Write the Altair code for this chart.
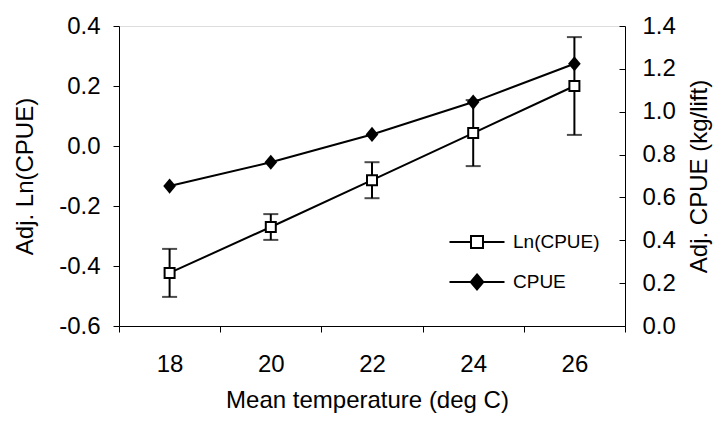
import altair as alt
import pandas as pd

temps = ["18", "20", "22", "24", "26"]
ln_cpue = [-0.423, -0.270, -0.114, 0.043, 0.200]
ln_err = [0.080, 0.043, 0.060, 0.110, 0.163]
cpue = [0.653, 0.764, 0.894, 1.045, 1.224]
series = ["Ln(CPUE)", "CPUE"]

left_ticks = [-0.6, -0.4, -0.2, 0.0, 0.2, 0.4]
right_ticks = [0.0, 0.2, 0.4, 0.6, 0.8, 1.0, 1.2, 1.4]

df = pd.DataFrame({
    "temp": temps,
    "ln": ln_cpue,
    "lo": [v - e for v, e in zip(ln_cpue, ln_err)],
    "hi": [v + e for v, e in zip(ln_cpue, ln_err)],
    "cpue": cpue,
    "series": [series[0]] * len(temps),
})

FONT = "Liberation Sans"
W, H = 506, 300
LBL = "replace(format(datum.value, '.1f'), '\u2212', '-')"
FS_LBL, FS_TTL = 24, 24

x = alt.X(
    "temp:O",
    scale=alt.Scale(type="band", paddingInner=0, paddingOuter=0),
    bandPosition=0.5,
    sort=temps,
    axis=alt.Axis(
        title="Mean temperature (deg C)", labelAngle=0, tickBand="extent",
        tickSize=6, labelPadding=20, titlePadding=12, titleX=248,
        domainColor="black",
        tickColor="black", labelFontSize=FS_LBL, titleFontSize=FS_TTL,
        titleFontWeight="normal", labelFont=FONT, titleFont=FONT,
        labelColor="black", titleColor="black",
    ),
)

y_ln_scale = alt.Scale(domain=[-0.6, 0.4], nice=False, zero=False)
y_ln = alt.Y(
    "ln:Q", scale=y_ln_scale,
    axis=alt.Axis(
        orient="left", values=left_ticks, labelExpr=LBL, grid=False,
        tickSize=6, labelPadding=13, title="Adj. Ln(CPUE)", titlePadding=21,
        domainColor="black", tickColor="black", labelFontSize=FS_LBL,
        titleFontSize=FS_TTL, titleFontWeight="normal", labelFont=FONT,
        titleFont=FONT, labelColor="black", titleColor="black",
    ),
)

base = alt.Chart(df)

err_rule = base.mark_rule(color="black", strokeWidth=2).encode(
    x=x, y=alt.Y("lo:Q", scale=y_ln_scale), y2="hi:Q"
)
cap_lo = base.mark_tick(color="black", size=15, thickness=2).encode(
    x=x, y=alt.Y("lo:Q", scale=y_ln_scale)
)
cap_hi = base.mark_tick(color="black", size=15, thickness=2).encode(
    x=x, y=alt.Y("hi:Q", scale=y_ln_scale)
)
ln_line = base.mark_line(color="black", strokeWidth=2).encode(x=x, y=y_ln)
ln_pts = base.mark_point(
    shape="square", size=100, filled=True, fill="white", stroke="black",
    strokeWidth=2, opacity=1,
).encode(x=x, y=y_ln)

sq_path = "M-2.75,0H-0.6M0.6,0H2.75M-0.6,-0.6H0.6V0.6H-0.6Z"
dia_path = "M-2.75,0H2.75M0,-0.75L0.63,0L0,0.75L-0.63,0Z"

leg = alt.Legend(
    orient="none", legendX=347, legendY=205, padding=0, rowPadding=18,
    symbolSize=400, symbolStrokeWidth=2,
    labelOffset=25, labelFontSize=19, labelFont=FONT, labelColor="black",
    symbolOpacity=1,
)
legend_layer = base.mark_point(filled=True, opacity=0).encode(
    x=x, y=alt.Y("ln:Q", scale=y_ln_scale),
    shape=alt.Shape("series:N", title=None,
                    scale=alt.Scale(domain=series, range=[sq_path, dia_path]),
                    legend=leg),
    fill=alt.Fill("series:N", title=None,
                  scale=alt.Scale(domain=series, range=["white", "black"]),
                  legend=leg),
    stroke=alt.Stroke("series:N", title=None,
                      scale=alt.Scale(domain=series, range=["black", "black"]),
                      legend=leg),
)

ln_group = alt.layer(err_rule, cap_lo, cap_hi, ln_line, ln_pts, legend_layer)

y_cp_scale = alt.Scale(domain=[0, 1.4], nice=False, zero=False)
y_cp = alt.Y(
    "cpue:Q", scale=y_cp_scale,
    axis=alt.Axis(
        orient="right", values=right_ticks, labelExpr=LBL, grid=False,
        ticks=False, labelPadding=17, title="Adj. CPUE (kg/lift)",
        titleAngle=270, titleBaseline="top", titlePadding=12,
        domainColor="black",
        labelFontSize=FS_LBL, titleFontSize=FS_TTL, titleFontWeight="normal",
        labelFont=FONT, titleFont=FONT, labelColor="black",
        titleColor="black",
    ),
)
dia_mark = "M0,-1.2L1,0L0,1.2L-1,0Z"
cp_line = base.mark_line(color="black", strokeWidth=2).encode(x=x, y=y_cp)
cp_pts = base.mark_point(
    shape=dia_mark, size=160, filled=True, color="black", opacity=1,
).encode(x=x, y=y_cp)
cp_group = alt.layer(cp_line, cp_pts)

y_tick = alt.Y(
    "cpue:Q", scale=y_cp_scale,
    axis=alt.Axis(
        orient="left", offset=-W, values=right_ticks, labels=False,
        domain=False, grid=False, tickSize=6, tickColor="black", title="",
    ),
)
tick_group = base.mark_point(opacity=0).encode(x=x, y=y_tick)

chart = alt.layer(ln_group, cp_group, tick_group).resolve_scale(
    y="independent"
).properties(
    width=W, height=H,
    autosize=alt.AutoSizeParams(type="none"),
    padding={"left": 111, "top": 18, "right": 88, "bottom": 90},
).configure_view(stroke=None).configure(background="white")

chart.save("out.html", embed_options={"renderer": "svg", "actions": False})
